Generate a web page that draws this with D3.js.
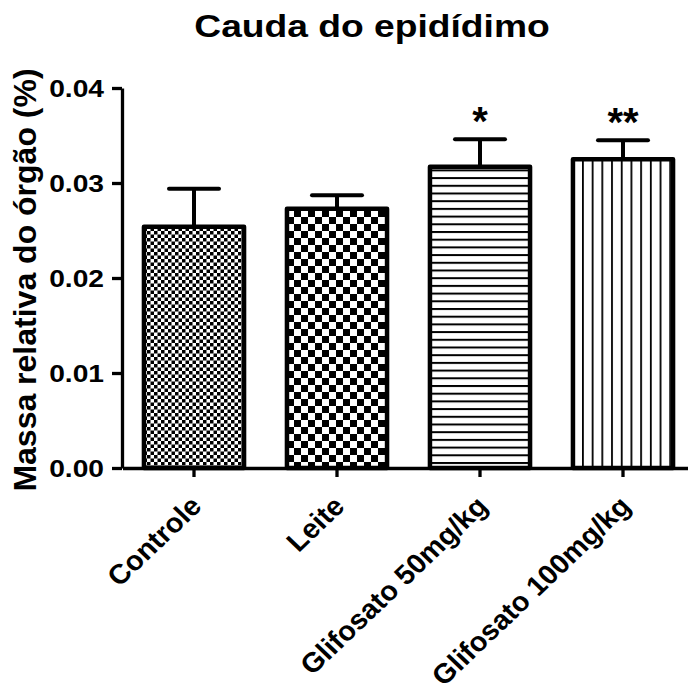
<!DOCTYPE html>
<html>
<head>
<meta charset="utf-8">
<script src="https://cdn.jsdelivr.net/npm/d3@7"></script>
<style>
  body { margin: 0; background: #fff; }
  text { font-family: "Liberation Sans", Arial, sans-serif; font-weight: bold; }
</style>
</head>
<body>
<svg width="688" height="693"></svg>
<script>
// data
var categories = ["Controle", "Leite", "Glifosato 50mg/kg", "Glifosato 100mg/kg"];
var means = [0.0254, 0.0273, 0.0317, 0.0325];
var errors = [0.0040, 0.0014, 0.0029, 0.0020];
var marks = ["", "", "*", "**"];
var yTicks = [0, 0.01, 0.02, 0.03, 0.04];
var patterns = ["checkSmall", "checkBig", "hlines", "vlines"];

// the original picture is a bit wider than tall, text is stretched sideways
var stretch = 1.2;

var svg = d3.select("svg");

// patterns
var defs = svg.append("defs");

var p1 = defs.append("pattern").attr("id", "checkSmall")
    .attr("patternUnits", "userSpaceOnUse").attr("width", 7).attr("height", 7);
p1.append("rect").attr("width", 7).attr("height", 7).attr("fill", "#fff");
p1.append("rect").attr("width", 3.5).attr("height", 3.5).attr("fill", "#000");
p1.append("rect").attr("x", 3.5).attr("y", 3.5).attr("width", 3.5).attr("height", 3.5).attr("fill", "#000");

var p2 = defs.append("pattern").attr("id", "checkBig")
    .attr("patternUnits", "userSpaceOnUse").attr("width", 14).attr("height", 14);
p2.append("rect").attr("width", 14).attr("height", 14).attr("fill", "#fff");
p2.append("rect").attr("width", 7).attr("height", 7).attr("fill", "#000");
p2.append("rect").attr("x", 7).attr("y", 7).attr("width", 7).attr("height", 7).attr("fill", "#000");

var p3 = defs.append("pattern").attr("id", "hlines")
    .attr("patternUnits", "userSpaceOnUse").attr("width", 10).attr("height", 7.7);
p3.append("rect").attr("width", 10).attr("height", 7.7).attr("fill", "#fff");
p3.append("rect").attr("y", 0).attr("width", 10).attr("height", 2).attr("fill", "#000");

var p4 = defs.append("pattern").attr("id", "vlines")
    .attr("patternUnits", "userSpaceOnUse").attr("width", 9.7).attr("height", 10);
p4.append("rect").attr("width", 9.7).attr("height", 10).attr("fill", "#fff");
p4.append("rect").attr("x", 0).attr("width", 1.8).attr("height", 10).attr("fill", "#000");

var x = d3.scaleBand()
    .domain(categories)
    .range([122.5, 694.5])
    .paddingInner(0.3)
    .paddingOuter(0.15);

var y = d3.scaleLinear()
    .domain([0, 0.04])
    .range([468, 88]);

// title
svg.append("text")
    .attr("transform", "translate(372,37) scale(" + stretch + ",1)")
    .attr("text-anchor", "middle")
    .attr("font-size", 31)
    .text("Cauda do epidídimo");

// y label
svg.append("text")
    .attr("transform", "translate(36,280) rotate(-90)")
    .attr("text-anchor", "middle")
    .attr("font-size", 32)
    .text("Massa relativa do órgão (%)");

// bars
var bars = svg.append("g");
categories.forEach(function(c, i) {
    var cx = x(c) + x.bandwidth() / 2;
    // error bar (upper only)
    bars.append("line")
        .attr("x1", cx).attr("x2", cx)
        .attr("y1", y(means[i])).attr("y2", y(means[i] + errors[i]))
        .attr("stroke", "#000").attr("stroke-width", 4);
    bars.append("line")
        .attr("x1", cx - 25).attr("x2", cx + 25)
        .attr("y1", y(means[i] + errors[i])).attr("y2", y(means[i] + errors[i]))
        .attr("stroke", "#000").attr("stroke-width", 4).attr("stroke-linecap", "round");
    bars.append("rect")
        .attr("x", x(c))
        .attr("y", y(means[i]))
        .attr("width", x.bandwidth())
        .attr("height", y(0) - y(means[i]))
        .attr("fill", "url(#" + patterns[i] + ")")
        .attr("stroke", "#000")
        .attr("stroke-width", 4.5)
        .attr("stroke-linejoin", "round");
    if (marks[i]) {
        bars.append("text")
            .attr("x", cx)
            .attr("y", y(means[i] + errors[i]) - 4)
            .attr("text-anchor", "middle")
            .attr("font-size", 40)
            .text(marks[i]);
    }
});

// y axis
var yAxis = svg.append("g")
    .attr("transform", "translate(122,0)")
    .call(d3.axisLeft(y).tickValues(yTicks).tickFormat(d3.format(".2f")).tickSize(10).tickSizeOuter(0));
yAxis.select(".domain").attr("stroke-width", 3.3);
yAxis.selectAll(".tick line").attr("stroke-width", 3.3);
yAxis.selectAll(".tick text")
    .attr("font-size", 23.5)
    .attr("fill", "#000")
    .attr("x", -18 / stretch)
    .attr("dy", "0.36em")
    .attr("transform", "scale(" + stretch + ",1)");

// x axis
var xAxis = svg.append("g")
    .attr("transform", "translate(0,468)")
    .call(d3.axisBottom(x).tickSize(9).tickSizeOuter(0));
xAxis.select(".domain").attr("stroke-width", 3.3);
xAxis.selectAll(".tick line").attr("stroke-width", 3.3);
xAxis.selectAll(".tick text")
    .attr("font-size", 27.5)
    .attr("fill", "#000")
    .attr("text-anchor", "end")
    .attr("transform", "translate(2,33) scale(1.05,1) rotate(-45)")
    .attr("x", 0).attr("y", 0).attr("dy", "0.35em");
</script>
</body>
</html>
